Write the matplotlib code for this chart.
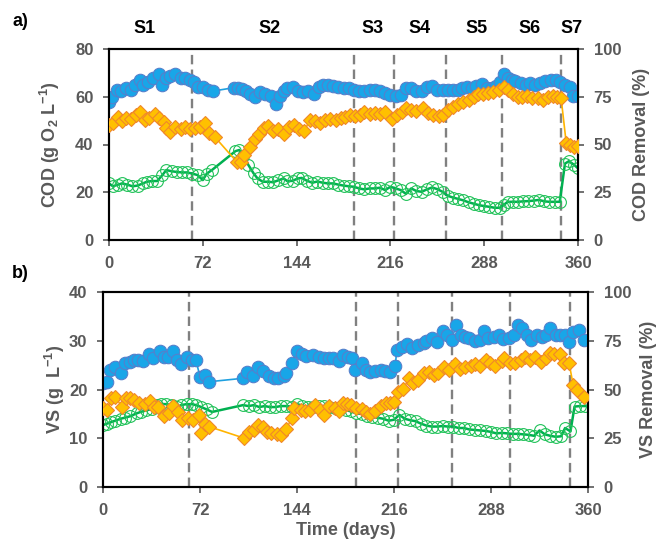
import matplotlib
matplotlib.use('Agg')
import matplotlib.pyplot as plt
import matplotlib.transforms as mtransforms

#------------------------------------------------------------------------------#

plt.rc('font', family='Liberation Sans', weight='bold', size=12)
plt.rc('axes', labelweight='bold')
plt.rc('mathtext', fontset='custom', rm='Liberation Sans:bold',
       bf='Liberation Sans:bold', it='Liberation Sans:bold')

GRAY = '#595959'

# a) COD influent (g O2 / L)
cod_in_days = [0, 2, 6, 9, 13, 17, 20, 24, 26, 30,
               34, 38, 41, 44, 47, 51, 55, 58, 62, 65,
               68, 72, 76, 80, 96, 99, 102, 105, 108, 112,
               116, 120, 124, 128, 131, 134, 137, 141, 145, 149,
               153, 157, 161, 164, 168, 172, 176, 180, 184, 188,
               192, 196, 200, 204, 208, 212, 216, 220, 224, 228,
               232, 236, 240, 244, 248, 252, 256, 260, 264, 268,
               271, 275, 279, 282, 286, 290, 294, 297, 300, 303,
               306, 309, 312, 316, 320, 323, 327, 331, 335, 339,
               343, 346, 350, 354, 356, 360]
cod_in = [57.9, 60.0, 62.8, 62.4, 63.5, 62.8, 65.0, 67.0, 65.0, 66.3,
          67.7, 69.4, 65.0, 67.7, 68.5, 69.4, 67.7, 68.0, 67.0, 66.3,
          64.2, 64.2, 62.8, 62.4, 63.8, 63.8, 63.2, 62.4, 61.0, 59.8,
          62.0, 61.0, 60.4, 57.0, 60.5, 62.5, 63.8, 64.0, 62.4, 62.0,
          62.2, 61.0, 64.0, 64.8, 65.0, 64.5, 64.0, 63.8, 63.5, 62.8,
          62.4, 62.4, 62.8, 62.8, 62.2, 61.4, 60.8, 60.2, 60.7, 63.8,
          63.5, 62.5, 62.6, 64.2, 64.7, 62.8, 62.8, 62.8, 62.8, 63.0,
          63.5, 64.2, 63.5, 64.7, 65.5, 63.5, 63.5, 64.5, 66.3, 69.4,
          68.0, 67.0, 66.6, 65.7, 65.0, 65.7, 65.0, 65.7, 66.6, 67.0,
          67.0, 66.3, 65.0, 64.2, 60.4, 60.4]

# a) COD effluent (g O2 / L)
cod_out_days = [0, 3, 7, 10, 14, 18, 22, 26, 29, 33,
                37, 41, 44, 48, 52, 56, 60, 64, 68, 72,
                75, 79, 97, 100, 103, 107, 111, 114, 118, 122,
                126, 130, 134, 137, 141, 145, 148, 152, 156, 160,
                164, 168, 172, 176, 180, 184, 188, 192, 196, 200,
                204, 208, 212, 216, 220, 224, 228, 232, 236, 240,
                244, 248, 252, 256, 260, 264, 268, 272, 276, 280,
                284, 288, 292, 296, 300, 303, 306, 310, 314, 318,
                322, 326, 330, 334, 338, 342, 346, 350, 353, 357,
                360]
cod_out = [23.7, 22.5, 23.2, 23.7, 23.2, 22.5, 22.8, 23.7, 24.4, 24.7,
           24.7, 27.2, 29.3, 28.8, 28.5, 28.3, 28.3, 27.8, 27.2, 25.1,
           27.8, 29.3, 37.2, 37.7, 35.0, 31.4, 27.9, 25.8, 24.4, 24.4,
           24.2, 25.0, 25.8, 24.6, 24.8, 25.8, 26.0, 24.8, 24.0, 24.5,
           24.0, 23.7, 23.7, 23.2, 22.8, 22.5, 22.3, 21.6, 21.2, 21.6,
           21.6, 21.9, 20.9, 22.3, 21.6, 20.9, 19.3, 21.6, 20.5, 20.2,
           21.2, 22.0, 21.3, 20.2, 18.5, 17.8, 17.2, 16.6, 15.8, 15.2,
           14.6, 14.2, 13.9, 13.5, 13.5, 14.7, 16.0, 16.0, 16.0, 16.2,
           16.3, 16.5, 16.8, 16.2, 16.0, 16.0, 16.0, 32.0, 33.0, 31.5,
           30.0]

# a) COD removal (%)
cod_rem_days = [0, 3, 7, 10, 13, 17, 21, 24, 28, 31,
                35, 38, 42, 44, 47, 51, 55, 58, 62, 66,
                70, 74, 77, 81, 98, 101, 104, 108, 112, 115,
                119, 122, 126, 130, 134, 138, 142, 146, 150, 154,
                158, 162, 166, 170, 174, 178, 181, 185, 189, 193,
                196, 200, 204, 208, 212, 217, 221, 225, 228, 232,
                236, 241, 245, 249, 253, 256, 260, 264, 268, 272,
                276, 280, 283, 287, 291, 295, 299, 303, 306, 310,
                314, 317, 321, 325, 329, 333, 337, 341, 344, 347,
                351, 354, 357, 360]
cod_rem = [60.0, 61.0, 64.6, 62.3, 63.7, 63.4, 65.4, 66.8, 62.8, 64.0,
           65.8, 64.0, 62.0, 58.5, 56.7, 59.3, 58.0, 59.3, 58.3, 58.6,
           59.3, 61.1, 55.9, 54.1, 41.0, 41.0, 44.5, 48.5, 53.0, 55.5,
           58.5, 59.7, 57.0, 58.0, 55.5, 59.0, 60.0, 58.0, 57.0, 62.8,
           62.2, 61.4, 62.8, 63.4, 62.6, 63.8, 64.2, 65.4, 64.8, 65.4,
           66.8, 66.0, 66.4, 66.0, 67.2, 63.4, 65.4, 67.2, 69.0, 68.0,
           67.5, 69.0, 66.4, 65.4, 65.0, 65.4, 68.0, 69.8, 71.0, 72.4,
           73.3, 75.0, 76.3, 76.3, 76.8, 77.6, 78.5, 80.3, 78.5, 76.3,
           75.0, 75.0, 75.6, 74.5, 74.5, 73.3, 75.0, 75.6, 75.0, 74.5,
           50.6, 49.7, 48.9, 49.4]

# b) VS influent (g / L)
vs_in_days = [0, 3, 5, 9, 13, 16, 20, 23, 26, 30,
              34, 37, 42, 45, 48, 52, 55, 58, 62, 66,
              69, 72, 76, 79, 104, 107, 111, 115, 119, 123,
              127, 130, 134, 136, 140, 144, 148, 151, 156, 160,
              164, 168, 171, 175, 178, 182, 185, 187, 192, 195,
              198, 202, 206, 209, 213, 217, 218, 222, 226, 229,
              234, 238, 240, 244, 248, 252, 255, 259, 262, 266,
              269, 272, 276, 280, 283, 286, 290, 294, 297, 301,
              305, 308, 311, 315, 318, 322, 326, 329, 332, 336,
              339, 343, 346, 349, 353, 357]
vs_in = [21.3, 21.6, 24.1, 24.7, 23.3, 25.4, 25.7, 26.1, 26.1, 25.9,
         27.3, 26.4, 28.0, 26.6, 26.7, 28.0, 26.1, 25.2, 26.7, 26.0,
         26.0, 22.6, 23.0, 21.6, 22.3, 23.6, 22.8, 24.6, 23.7, 22.8,
         22.4, 22.3, 22.7, 23.3, 25.4, 27.8, 27.3, 26.9, 27.0, 26.6,
         26.4, 26.4, 26.4, 25.9, 27.1, 26.6, 26.4, 24.1, 25.4, 24.0,
         23.5, 23.7, 24.0, 23.7, 23.5, 24.8, 28.2, 28.7, 29.3, 28.6,
         29.1, 29.6, 30.0, 30.5, 29.8, 31.9, 31.2, 30.2, 33.2, 31.1,
         30.8, 30.6, 30.0, 30.2, 32.1, 30.5, 30.8, 31.2, 30.3, 30.5,
         31.2, 33.2, 32.7, 31.2, 30.2, 31.2, 30.8, 31.2, 32.6, 31.2,
         31.2, 31.2, 29.8, 31.8, 32.2, 30.2]

# b) VS effluent (g / L)
vs_out_days = [0, 3, 6, 9, 13, 16, 20, 25, 28, 32,
               36, 40, 43, 47, 51, 55, 58, 62, 66, 69,
               73, 77, 81, 104, 108, 112, 116, 120, 124, 128,
               132, 136, 140, 144, 148, 152, 156, 160, 164, 168,
               172, 176, 180, 184, 188, 192, 196, 200, 204, 208,
               212, 216, 220, 224, 228, 232, 236, 240, 244, 248,
               252, 256, 260, 264, 268, 272, 276, 280, 284, 288,
               292, 296, 300, 304, 308, 312, 316, 320, 324, 328,
               332, 336, 340, 343, 347, 350, 354, 358]
vs_out = [12.7, 13.0, 13.3, 13.6, 14.0, 14.2, 14.5, 15.1, 15.4, 15.7,
          16.0, 16.8, 17.0, 17.0, 16.8, 16.4, 16.8, 17.0, 17.0, 16.8,
          16.4, 15.9, 15.4, 16.8, 16.6, 16.8, 16.4, 16.6, 16.4, 16.4,
          16.6, 16.6, 16.5, 17.0, 16.7, 16.4, 16.5, 16.6, 16.6, 16.4,
          16.2, 16.0, 15.8, 15.5, 15.1, 15.0, 14.6, 14.3, 14.2, 14.0,
          13.6, 13.8, 14.8, 14.0, 13.7, 13.5, 13.0, 12.6, 12.4, 12.4,
          12.5, 12.4, 12.4, 12.1, 12.1, 11.8, 11.7, 11.6, 11.5, 11.3,
          11.0, 11.1, 11.0, 10.9, 10.9, 10.8, 10.7, 10.5, 11.6, 10.8,
          10.5, 10.3, 10.4, 12.1, 11.4, 16.5, 16.6, 16.6]

# b) VS removal (%)
vs_rem_days = [0, 3, 6, 9, 14, 17, 20, 23, 27, 31,
               35, 38, 41, 45, 49, 52, 56, 59, 63, 67,
               71, 73, 76, 79, 105, 108, 112, 115, 119, 122,
               125, 129, 132, 136, 140, 142, 147, 150, 154, 157,
               161, 164, 168, 172, 175, 178, 181, 184, 188, 192,
               195, 198, 202, 206, 210, 213, 216, 219, 223, 227,
               230, 234, 238, 242, 246, 249, 253, 257, 261, 265,
               269, 273, 276, 280, 284, 287, 291, 296, 298, 302,
               306, 310, 313, 317, 321, 325, 329, 332, 335, 339,
               342, 346, 349, 352, 357]
vs_rem = [40.3, 39.5, 45.5, 46.3, 41.2, 45.5, 45.5, 44.7, 43.3, 42.7,
          44.3, 41.0, 41.2, 36.6, 37.9, 41.5, 38.6, 34.6, 35.6, 34.3,
          36.8, 27.5, 32.5, 30.9, 25.0, 28.2, 29.0, 32.0, 31.0, 28.4,
          27.5, 27.3, 26.9, 29.6, 35.2, 40.3, 39.5, 38.8, 39.5, 42.0,
          39.5, 36.9, 41.5, 40.3, 38.8, 43.2, 42.6, 42.0, 40.3, 39.8,
          38.6, 37.4, 38.8, 41.4, 43.2, 43.2, 43.8, 48.9, 50.5, 55.7,
          53.2, 54.7, 58.3, 59.1, 57.4, 58.3, 61.7, 59.9, 63.1, 60.4,
          61.5, 62.0, 63.2, 61.9, 65.1, 63.8, 62.3, 64.6, 66.0, 63.5,
          63.5, 65.1, 66.8, 65.1, 66.8, 63.9, 66.1, 68.9, 68.2, 68.2,
          63.4, 63.4, 52.3, 50.0, 46.3]

stage_ends = [64, 188, 219, 259, 302, 347]
stage_names = ['S1', 'S2', 'S3', 'S4', 'S5', 'S6', 'S7']
stage_centres = [27, 123, 202, 238, 282, 323, 355]
x_ticks = [0, 72, 144, 216, 288, 360]

#------------------------------------------------------------------------------#

def style_axis(ax):
    for side in ['left', 'right', 'top', 'bottom']:
        ax.spines[side].set_linewidth(1.5)
        ax.spines[side].set_color('black')
    ax.tick_params(direction='out', length=4.2, width=1.2, color=GRAY,
                   labelcolor=GRAY, labelsize=12, pad=7)


def plot_panel(ax, d_in, v_in, d_out, v_out, d_rem, v_rem, left_max, left_step):
    for d in stage_ends:
        ax.axvline(d, color='#808080', lw=1.7, ls=(0, (4, 2.2)), zorder=1)

    ax.plot(d_in, v_in, color='#1EA0E0', lw=1.2, marker='o', ms=9,
            mfc='#18A6E8', mec='#5580CC', mew=0.8, zorder=3)
    ax.plot(d_out, v_out, color='#00B050', lw=1.8, marker='o', ms=8.5,
            mfc='none', mec='#22C25A', mew=0.8, zorder=2)
    ax.set_xlim(0, 360)
    ax.set_ylim(0, left_max)
    ax.set_xticks(x_ticks)
    ax.set_yticks(range(0, left_max + 1, left_step))

    ax2 = ax.twinx()
    ax2.plot(d_rem, v_rem, color='#FFB400', lw=1.2, marker='D', ms=6.8,
             mfc='#FFC000', mec='#F0872A', mew=0.8, zorder=3)
    ax2.set_ylim(0, 100)
    ax2.set_yticks([0, 25, 50, 75, 100])
    style_axis(ax)
    style_axis(ax2)
    return ax2


fig = plt.figure(figsize=(6.61, 5.42), dpi=100)

ax_a = fig.add_axes([109 / 661, 1 - 240 / 542, 469 / 661, 191 / 542])
ax_a2 = plot_panel(ax_a, cod_in_days, cod_in, cod_out_days, cod_out,
                   cod_rem_days, cod_rem, 80, 20)
ax_a.set_ylabel(r'COD (g O$_{2}$ L$^{-1}$)', color=GRAY, fontsize=13)
ax_a.yaxis.set_label_coords(-0.1, 0.5)
ax_a2.set_ylabel('COD Removal (%)', color=GRAY, fontsize=13)
ax_a2.yaxis.set_label_coords(1.118, 0.5)

trans = mtransforms.blended_transform_factory(ax_a.transData, ax_a.transAxes)
for name, x in zip(stage_names, stage_centres):
    ax_a.text(x, 1.105, name, transform=trans, ha='center', va='center',
              fontsize=13, color='black')

ax_b = fig.add_axes([103 / 661, 1 - 487 / 542, 485 / 661, 195 / 542])
ax_b2 = plot_panel(ax_b, vs_in_days, vs_in, vs_out_days, vs_out,
                   vs_rem_days, vs_rem, 40, 10)
ax_b.set_ylabel(r'VS (g  L$^{-1}$)', color=GRAY, fontsize=13)
ax_b.yaxis.set_label_coords(-0.075, 0.5)
ax_b2.set_ylabel('VS Removal (%)', color=GRAY, fontsize=13)
ax_b2.yaxis.set_label_coords(1.108, 0.5)
ax_b.set_xlabel('Time (days)', color=GRAY, fontsize=13)
ax_b.xaxis.set_label_coords(0.5, -0.18)

fig.text(20 / 661, 1 - 21 / 542, 'a)', ha='center', va='center', fontsize=13)
fig.text(20 / 661, 1 - 274 / 542, 'b)', ha='center', va='center', fontsize=13)

fig.savefig('out.png', dpi=100)
